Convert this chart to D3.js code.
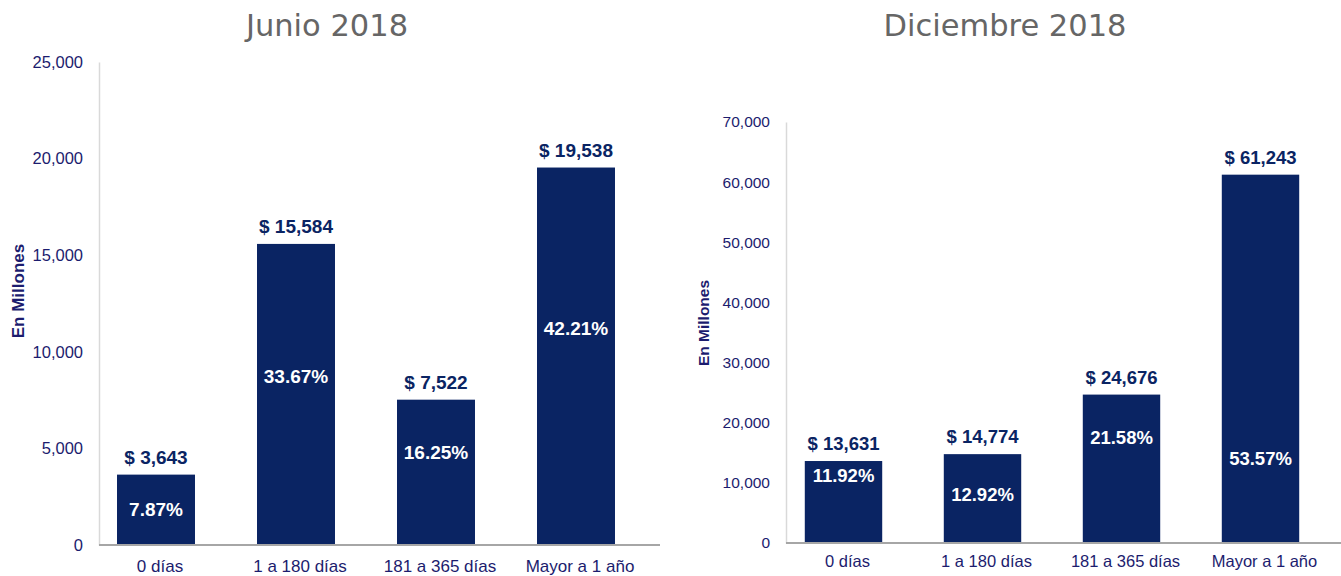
<!DOCTYPE html>
<html>
<head>
<meta charset="utf-8">
<script src="https://cdn.jsdelivr.net/npm/d3@7"></script>
<style>
  body { margin: 0; background: #fff; }
  svg { display: block; }
</style>
</head>
<body>
<div id="chart"></div>
<script>
// data
const categories = ['0 días', '1 a 180 días', '181 a 365 días', 'Mayor a 1 año'];
const junioValues = [3643, 15584, 7522, 19538];
const junioPct = ['7.87%', '33.67%', '16.25%', '42.21%'];
const junioTicks = [0, 5000, 10000, 15000, 20000, 25000];
const dicValues = [13631, 14774, 24676, 61243];
const dicPct = ['11.92%', '12.92%', '21.58%', '53.57%'];
const dicTicks = [0, 10000, 20000, 30000, 40000, 50000, 60000, 70000];

const W = 1341, H = 576;
const BAR = '#0a2463';
const NAVY = '#1c1c6e';
const FONT = 'Liberation Sans, Arial, sans-serif';

const svg = d3.select('#chart').append('svg').attr('width', W).attr('height', H);

const charts = [
  { title: 'Junio 2018', titleX: 327, values: junioValues, pct: junioPct, ticks: junioTicks,
    yMax: 25000, yRange: [545, 62], axisX: 99, axisEnd: 660, band: [86, 646],
    pctPos: [0.51, 0.56, 0.64, 0.575], tickSize: 16.5, labelSize: 17, labelX: 18, labelY: 291,
    catSize: 17, catDy: 27, valSize: 19 },
  { title: 'Diciembre 2018', titleX: 1005, values: dicValues, pct: dicPct, ticks: dicTicks,
    yMax: 70000, yRange: [543, 122], axisX: 786, axisEnd: 1341, band: [774, 1330],
    pctPos: [0.82, 0.54, 0.71, 0.23], tickSize: 15.5, labelSize: 15.5, labelX: 704, labelY: 323,
    catSize: 16.5, catDy: 24, valSize: 18.5 }
];

charts.forEach(c => {
  const g = svg.append('g');
  const y = d3.scaleLinear().domain([0, c.yMax]).range(c.yRange);
  const x = d3.scaleBand().domain(categories).range(c.band).paddingInner(0.443).paddingOuter(0.2215);

  g.append('text').attr('x', c.titleX).attr('y', 36).attr('text-anchor', 'middle')
    .attr('fill', '#666666').attr('font-size', '30.5px').attr('font-family', 'DejaVu Sans, Verdana, sans-serif')
    .text(c.title);

  // y axis
  g.append('g').attr('transform', `translate(${c.axisX},0)`)
    .call(d3.axisLeft(y).tickValues(c.ticks).tickSize(0).tickPadding(16).tickFormat(d3.format(',')))
    .call(a => a.select('.domain').attr('stroke', '#d9d9d9').attr('stroke-width', 1.5))
    .call(a => a.selectAll('.tick text').attr('fill', NAVY).attr('font-size', c.tickSize + 'px')
      .attr('font-family', FONT));

  g.append('text').attr('transform', `translate(${c.labelX},${c.labelY}) rotate(-90)`)
    .attr('text-anchor', 'middle').attr('dy', '0.35em')
    .attr('fill', NAVY).attr('font-size', c.labelSize + 'px').attr('font-weight', 'bold')
    .attr('font-family', FONT).text('En Millones');

  // bars
  const data = categories.map((cat, i) => ({ cat, v: c.values[i], pct: c.pct[i], pos: c.pctPos[i] }));
  g.selectAll('rect.bar').data(data).join('rect').attr('class', 'bar')
    .attr('x', d => x(d.cat)).attr('width', x.bandwidth())
    .attr('y', d => y(d.v)).attr('height', d => y(0) - y(d.v))
    .attr('fill', BAR);

  // x axis
  g.append('line').attr('x1', c.axisX).attr('x2', c.axisEnd).attr('y1', y(0)).attr('y2', y(0))
    .attr('stroke', '#a6a6a6').attr('stroke-width', 2);
  g.selectAll('text.cat').data(data).join('text').attr('class', 'cat')
    .attr('x', d => x(d.cat) + x.bandwidth() / 2 + 4).attr('y', y(0) + c.catDy).attr('text-anchor', 'middle')
    .attr('fill', NAVY).attr('font-size', c.catSize + 'px').attr('font-family', FONT)
    .text(d => d.cat);

  // value labels
  g.selectAll('text.val').data(data).join('text').attr('class', 'val')
    .attr('x', d => x(d.cat) + x.bandwidth() / 2).attr('y', d => y(d.v) - 11).attr('text-anchor', 'middle')
    .attr('fill', BAR).attr('font-size', c.valSize + 'px').attr('font-weight', 'bold')
    .attr('font-family', FONT)
    .text(d => '$ ' + d3.format(',')(d.v));

  // percentage labels
  g.selectAll('text.pct').data(data).join('text').attr('class', 'pct')
    .attr('x', d => x(d.cat) + x.bandwidth() / 2).attr('y', d => y(d.v * d.pos)).attr('dy', '0.35em')
    .attr('text-anchor', 'middle')
    .attr('fill', '#fff').attr('font-size', c.valSize + 'px').attr('font-weight', 'bold')
    .attr('font-family', FONT)
    .text(d => d.pct);
});
</script>
</body>
</html>
